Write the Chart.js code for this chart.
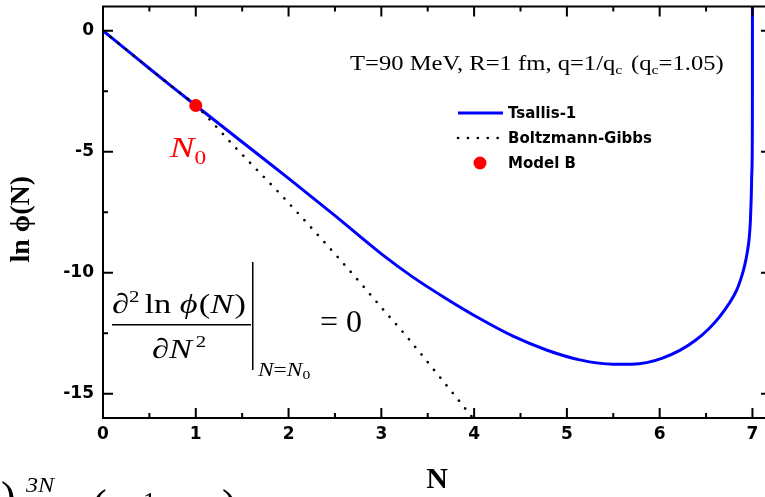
<!DOCTYPE html>
<html>
<head>
<meta charset="utf-8">
<script src="https://cdn.jsdelivr.net/npm/chart.js@4.4.1/dist/chart.umd.min.js"></script>
<style>
  html, body { margin: 0; padding: 0; background: #fff; }
  #lnPhi { display: block; }
</style>
</head>
<body>
<canvas id="lnPhi" width="765" height="497"></canvas>
<script>
// Tsallis-1 curve: ln phi(N) against N
const nTsallis = [0, 0.25, 0.5, 0.75, 1.0, 1.5, 2.0, 2.5, 3.0, 3.34, 3.70, 4.06, 4.42, 4.78, 5.14, 5.5, 5.7, 6.03, 6.39, 6.645, 6.83, 6.887, 6.92, 6.947, 6.966, 6.978, 6.986, 6.994, 6.999, 7.0];
const lnTsallis = [0, -0.78, -1.56, -2.33, -3.09, -4.6, -6.1, -7.64, -9.22, -10.18, -11.07, -11.89, -12.62, -13.19, -13.6, -13.78, -13.78, -13.53, -12.78, -11.82, -10.72, -10.11, -9.63, -9.09, -8.53, -7.85, -7.02, -5.8, -4.0, 1.5];

// Boltzmann-Gibbs curve
const nBG = [0, 0.25, 0.5, 0.75, 1.0, 1.2, 1.394, 1.94, 2.62, 2.98, 3.27, 3.614, 3.96, 4.05];
const lnBG = [0, -0.78, -1.56, -2.33, -3.09, -3.88, -4.69, -6.87, -9.74, -11.34, -12.62, -14.23, -15.87, -16.3];

// Model B point N0
const nModelB = [1.0];
const lnModelB = [-3.09];

// axis ticks
const xTicks = [0, 1, 2, 3, 4, 5, 6, 7];
const yTicks = [-15, -10, -5, 0];

const toPoints = (xs, ys) => xs.map((x, i) => ({ x: x, y: ys[i] }));

const serif = '"Liberation Serif", "Times New Roman", serif';
const sans = '"DejaVu Sans", sans-serif';

// draws a sequence of text runs [text, font, dy, extra gap], widened by sx
function drawRuns(ctx, x, y, runs, color, sx) {
  sx = sx || 1;
  ctx.save();
  ctx.translate(x, y);
  ctx.scale(sx, 1);
  ctx.fillStyle = color || '#000';
  ctx.textAlign = 'left';
  ctx.textBaseline = 'alphabetic';
  let cx = 0;
  runs.forEach(r => {
    ctx.font = r[1];
    ctx.fillText(r[0], cx, r[2] || 0);
    cx += ctx.measureText(r[0]).width + (r[3] || 0);
  });
  ctx.restore();
}

// the plot box runs past the right edge of the canvas
const plotRight = 771;
const widenPlugin = {
  id: 'widen',
  afterLayout(chart) {
    const a = chart.chartArea;
    const xs = chart.scales.x;
    a.right = plotRight;
    a.width = a.right - a.left;
    xs.right = plotRight;
    xs.width = xs.right - xs.left;
    xs.configure();
  }
};

// frame on four sides with inward major/minor ticks
const framePlugin = {
  id: 'frame',
  afterDraw(chart) {
    const { ctx, chartArea: a, scales } = chart;
    const xs = scales.x, ys = scales.y;
    ctx.save();
    ctx.strokeStyle = '#000';
    ctx.lineWidth = 2;
    ctx.strokeRect(a.left, a.top, a.right - a.left, a.bottom - a.top);
    ctx.beginPath();
    const tickX = (v, len) => {
      const p = xs.getPixelForValue(v);
      ctx.moveTo(p, a.bottom); ctx.lineTo(p, a.bottom - len);
      ctx.moveTo(p, a.top); ctx.lineTo(p, a.top + len);
    };
    const tickY = (v, len) => {
      const p = ys.getPixelForValue(v);
      ctx.moveTo(a.left, p); ctx.lineTo(a.left + len, p);
      ctx.moveTo(a.right, p); ctx.lineTo(a.right - len, p);
    };
    xTicks.forEach(v => { tickX(v, 10); if (v + 0.5 < xs.max) tickX(v + 0.5, 5); });
    yTicks.forEach(v => { tickY(v, 10); if (v - 2.5 > ys.min) tickY(v - 2.5, 5); });
    ctx.stroke();
    ctx.restore();
  }
};

// legend, notes and the inflection condition
const notesPlugin = {
  id: 'notes',
  afterDraw(chart) {
    const { ctx, scales } = chart;
    ctx.save();

    // legend
    const sets = [chart.data.datasets[2], chart.data.datasets[1], chart.data.datasets[0]];
    ctx.font = 'bold 15px ' + sans;
    sets.forEach((ds, i) => {
      const y = 113 + i * 25;
      ctx.save();
      if (ds.showLine) {
        ctx.strokeStyle = ds.borderColor;
        ctx.lineWidth = ds.borderWidth;
        ctx.lineCap = ds.borderCapStyle || 'butt';
        ctx.setLineDash(ds.borderDash || []);
        ctx.beginPath();
        ctx.moveTo(458, y); ctx.lineTo(503, y);
        ctx.stroke();
      } else {
        ctx.fillStyle = ds.backgroundColor;
        ctx.beginPath();
        ctx.arc(480, y, ds.pointRadius, 0, Math.PI * 2);
        ctx.fill();
      }
      ctx.restore();
      ctx.fillStyle = '#000';
      ctx.textBaseline = 'middle';
      ctx.textAlign = 'left';
      ctx.fillText(ds.label, 508, y + 1);
    });

    const wide = 1.23;

    // parameters
    const f20 = '20px ' + serif, f13 = '13px ' + serif;
    drawRuns(ctx, 350, 70, [
      ['T=90 MeV, R=1 fm, q=1/q', f20], ['c', f13, 4, 7],
      ['(q', f20], ['c', f13, 4], ['=1.05)', f20]
    ], '#000', wide);

    // N0 label next to the Model B point
    const px = scales.x.getPixelForValue(nModelB[0]);
    const py = scales.y.getPixelForValue(lnModelB[0]);
    drawRuns(ctx, px - 26, py + 51, [
      ['N', 'italic 30px ' + serif], ['0', '19px ' + serif, 7]
    ], '#ff0000', wide);

    // d2 ln phi / dN2 |_{N=N0} = 0
    const f28 = '28px ' + serif, fi28 = 'italic 28px ' + serif, f17 = '17px ' + serif;
    drawRuns(ctx, 112, 313, [
      ['\u2202', f28], ['2', f17, -11, 4], ['ln ', f28], ['\u03d5', fi28, 0, 1],
      ['(', f28], ['N', fi28, 0, 1], [')', f28]
    ], '#000', wide);
    drawRuns(ctx, 152, 358, [['\u2202', f28], ['N', fi28, 0, 3], ['2', f17, -11]], '#000', wide);
    ctx.fillStyle = '#000';
    ctx.fillRect(112, 324, 139, 1.5);
    ctx.fillRect(252, 262, 1.5, 108);
    drawRuns(ctx, 258, 376, [['N', 'italic 18px ' + serif], ['=', '18px ' + serif],
      ['N', 'italic 18px ' + serif], ['0', '12px ' + serif, 3]], '#000', 1.3);
    drawRuns(ctx, 320, 332, [['= 0', '32px ' + serif]]);

    // piece of the expression below the plot
    drawRuns(ctx, 1, 512, [[')', '44px ' + serif]]);
    drawRuns(ctx, 26, 492, [['3', 'italic 22px ' + serif], ['N', 'italic 22px ' + serif]], '#000', 1.1);
    drawRuns(ctx, 92, 520, [['(', '44px ' + serif]]);
    drawRuns(ctx, 143, 510, [['1', '26px ' + serif]]);
    drawRuns(ctx, 222, 520, [[')', '44px ' + serif]]);

    ctx.restore();
  }
};

const ctx = document.getElementById('lnPhi').getContext('2d');
const lnPhiChart = new Chart(ctx, {
  type: 'scatter',
  data: {
    datasets: [{
      label: 'Model B',
      data: toPoints(nModelB, lnModelB),
      backgroundColor: '#ff0000',
      borderWidth: 0,
      pointRadius: 6.5,
      showLine: false,
      order: 1
    }, {
      label: 'Boltzmann-Gibbs',
      data: toPoints(nBG, lnBG),
      borderColor: '#000000',
      borderWidth: 2.6,
      borderDash: [0.1, 9.8],
      borderCapStyle: 'round',
      pointRadius: 0,
      showLine: true,
      cubicInterpolationMode: 'monotone',
      order: 2
    }, {
      label: 'Tsallis-1',
      data: toPoints(nTsallis, lnTsallis),
      borderColor: '#0000ff',
      borderWidth: 3,
      pointRadius: 0,
      showLine: true,
      cubicInterpolationMode: 'monotone',
      order: 3
    }]
  },
  options: {
    responsive: false,
    animation: false,
    devicePixelRatio: 1,
    layout: { padding: { top: 5, right: 0, left: 0, bottom: 0 } },
    plugins: {
      legend: { display: false },
      tooltip: { enabled: false }
    },
    scales: {
      x: {
        type: 'linear',
        min: 0,
        max: 7.2,
        afterFit: s => { s.height = 79; },
        afterBuildTicks: s => { s.ticks = xTicks.map(v => ({ value: v })); },
        grid: { display: false, drawTicks: false },
        border: { display: false },
        ticks: { color: '#000', padding: 6, font: { family: 'DejaVu Sans', weight: 'bold', size: 17 } },
        title: {
          display: true,
          text: 'N',
          color: '#000',
          padding: { top: 0, bottom: 2 },
          font: { family: 'Liberation Serif', weight: 'bold', size: 30, lineHeight: 1 }
        }
      },
      y: {
        type: 'linear',
        min: -16,
        max: 1,
        afterFit: s => { s.width = 103; s.paddingTop = 0; s.paddingBottom = 0; },
        afterBuildTicks: s => { s.ticks = yTicks.map(v => ({ value: v })); },
        grid: { display: false, drawTicks: false },
        border: { display: false },
        ticks: { color: '#000', padding: 9, font: { family: 'DejaVu Sans', weight: 'bold', size: 17 } },
        title: {
          display: true,
          text: 'ln \u03d5(N)\u2002',
          color: '#000',
          padding: { top: 8, bottom: 0 },
          font: { family: 'Liberation Serif', weight: 'bold', size: 28, lineHeight: 1 }
        }
      }
    }
  },
  plugins: [widenPlugin, framePlugin, notesPlugin]
});
</script>
</body>
</html>
